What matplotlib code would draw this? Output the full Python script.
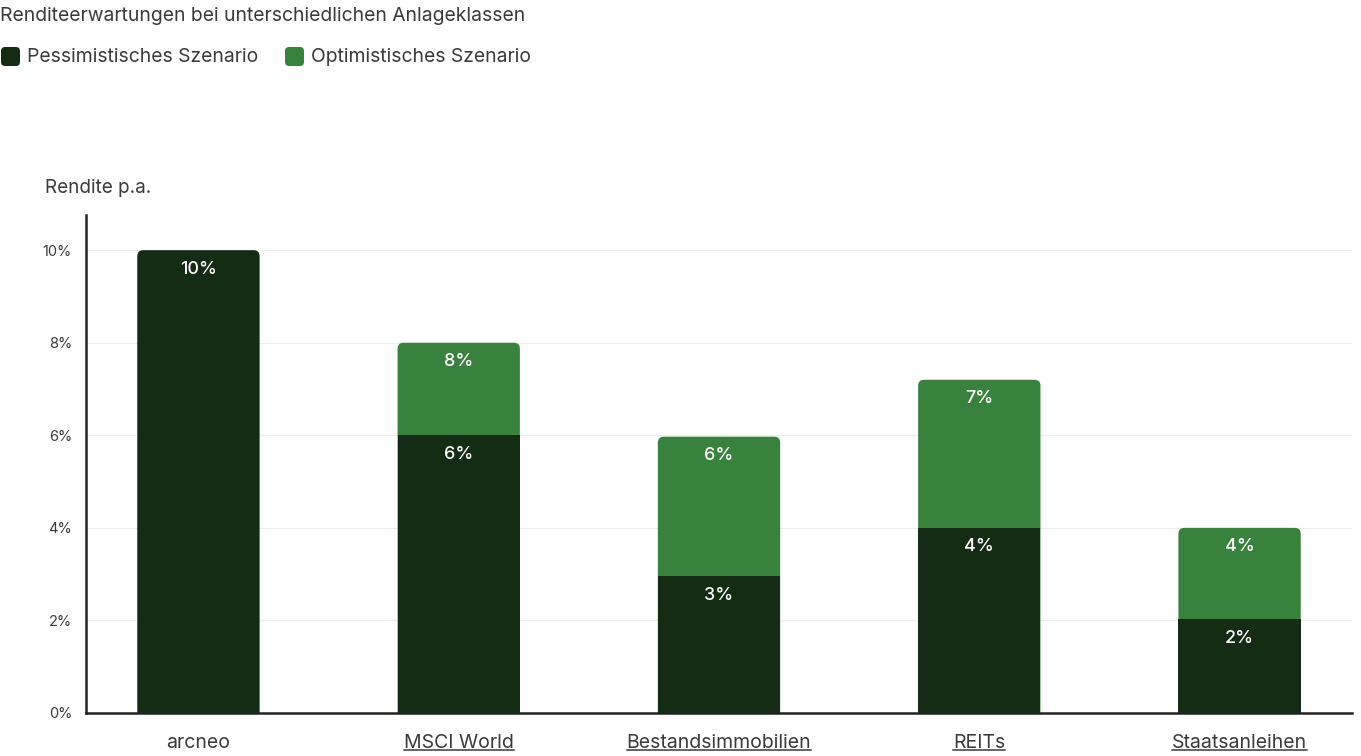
import matplotlib.pyplot as plt
from matplotlib.patches import FancyBboxPatch, PathPatch
from matplotlib.path import Path
from matplotlib.lines import Line2D

plt.rcParams['font.family'] = ['Inter', 'DejaVu Sans']

categories = ['arcneo', 'MSCI World', 'Bestandsimmobilien', 'REITs', 'Staatsanleihen']
linked = [False, True, True, True, True]
pessimistic = [10, 6, 2.95, 4, 2.03]
optimistic = [0, 8, 5.97, 7.2, 4]
yticks = [0, 2, 4, 6, 8, 10]

dark = '#142b14'
green = '#39823d'
text_col = '#3a3a3a'

fig = plt.figure(figsize=(13.61, 7.56), dpi=100)
ax = fig.add_axes([86 / 1361, 43 / 756, 1266 / 1361, 498 / 756])

x = list(range(len(categories)))
w = 0.47
ppx = 260.3          # pixels per x unit
ppy = 46.3           # pixels per y unit
r = 6                # corner radius in px


def round_top(b, color, z):
    # swap a bar for a path with rounded top corners
    x0, y0, bw, bh = b.get_x(), b.get_y(), b.get_width(), b.get_height()
    b.set_visible(False)
    if bh <= 0:
        return
    x1, y1 = x0 + bw, y0 + bh
    rx, ry = r / ppx, r / ppy
    verts = [(x0, y0), (x0, y1 - ry), (x0, y1), (x0 + rx, y1),
             (x1 - rx, y1), (x1, y1), (x1, y1 - ry), (x1, y0), (x0, y0)]
    codes = [Path.MOVETO, Path.LINETO, Path.CURVE3, Path.CURVE3,
             Path.LINETO, Path.CURVE3, Path.CURVE3, Path.LINETO, Path.CLOSEPOLY]
    ax.add_patch(PathPatch(Path(verts, codes), facecolor=color,
                           edgecolor='none', zorder=z))


opt_bars = ax.bar(x, optimistic, width=w, color=green)
pes_bars = ax.bar(x, pessimistic, width=w, color=dark)
for b in opt_bars:
    round_top(b, green, 2)
# pessimistic bars: round only where they are the top segment
for i, b in enumerate(pes_bars):
    if optimistic[i] > pessimistic[i]:
        b.set_zorder(3)
        b.set_edgecolor('none')
    else:
        round_top(b, dark, 3)

for i in x:
    for v in (pessimistic[i], optimistic[i]):
        if v > 0:
            ax.annotate(f"{round(v)}%", (i, v), xytext=(0, -19),
                        textcoords='offset pixels', ha='center', va='center',
                        color='white', fontsize=13, fontweight='medium', zorder=5)

ax.set_xlim(-0.432, 4.432)
ax.set_ylim(0, 10.76)
ax.set_yticks(yticks)
ax.set_yticklabels([f"{t}%" for t in yticks])
ax.tick_params(axis='y', length=0, pad=10, labelsize=10.5, labelcolor=text_col)
ax.set_xticks(x)
ax.set_xticklabels(categories)
ax.tick_params(axis='x', length=0, pad=15, labelsize=14, labelcolor=text_col)
ax.grid(axis='y', color='#ececec', linewidth=0.8, zorder=0)
ax.set_axisbelow(True)
for s in ('top', 'right'):
    ax.spines[s].set_visible(False)
for s in ('left', 'bottom'):
    ax.spines[s].set_linewidth(1.8)
    ax.spines[s].set_color('#222222')

fig.text(45 / 1361, 1 - 188 / 756, 'Rendite p.a.', fontsize=13.6, color=text_col,
         ha='left', va='center')
fig.text(0, 1 - 16 / 756, 'Renditeerwartungen bei unterschiedlichen Anlageklassen',
         fontsize=13.9, color=text_col, ha='left', va='center')

# legend
for lx, col, lab in [(1, dark, 'Pessimistisches Szenario'),
                     (285, green, 'Optimistisches Szenario')]:
    fig.patches.append(FancyBboxPatch((lx / 1361, 1 - 66 / 756), 19 / 1361, 19 / 756,
                                      boxstyle="round,pad=0,rounding_size=0.003",
                                      mutation_aspect=1361 / 756,
                                      transform=fig.transFigure, facecolor=col,
                                      edgecolor='none'))
    fig.text((lx + 26) / 1361, 1 - 57 / 756, lab, fontsize=13.9, color=text_col,
             ha='left', va='center')

# underline linked category labels
fig.canvas.draw()
rend = fig.canvas.get_renderer()
for lbl, ln in zip(ax.get_xticklabels(), linked):
    if not ln:
        continue
    bb = lbl.get_window_extent(rend)
    yy = bb.y0 + 2
    fig.add_artist(Line2D([bb.x0 / 1361, bb.x1 / 1361], [yy / 756, yy / 756],
                          transform=fig.transFigure, color=text_col, linewidth=1.1))

fig.savefig('out.png', dpi=100)
